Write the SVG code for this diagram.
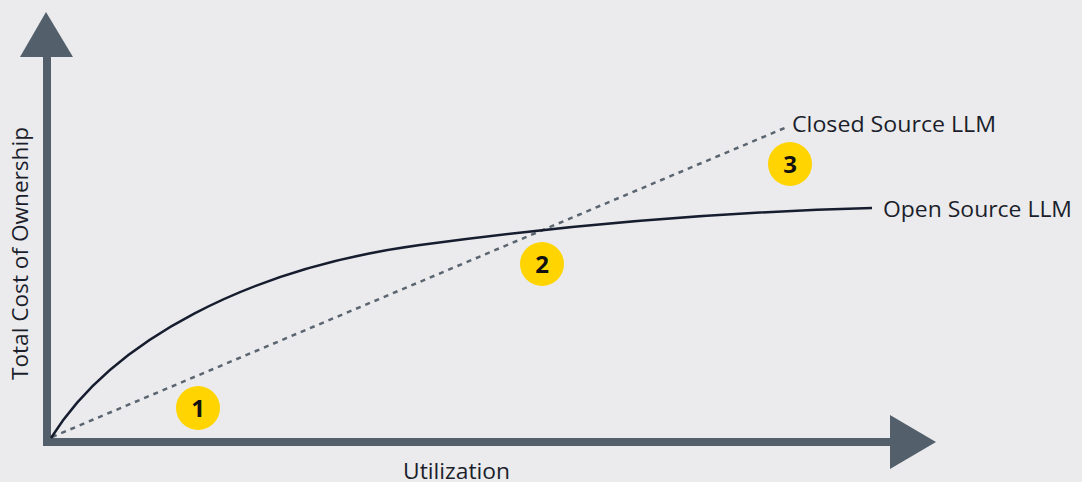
<svg xmlns="http://www.w3.org/2000/svg" width="1082" height="482" viewBox="0 0 1082 482">
  <style>
    .lbl { font-family: "Open Sans", "Noto Sans", "Liberation Sans", sans-serif; font-size: 21px; fill: #1b1e2b; }
    .num { font-family: "Open Sans", "Noto Sans", "Liberation Sans", sans-serif; font-size: 24px; font-weight: bold; fill: #111111; text-anchor: middle; }
    .badge { fill: #ffd400; }
    .axis { fill: #535f6b; }
  </style>
  <rect x="0" y="0" width="1082" height="482" fill="#ebebed"/>

  <g id="axes">
    <rect class="axis" x="43" y="55" width="8" height="391"/>
    <polygon class="axis" points="46,12 73,57 20,57"/>
    <rect class="axis" x="43" y="438" width="849" height="8"/>
    <polygon class="axis" points="890,415 936,442 890,469"/>
  </g>

  <g id="connectors">
    <path id="closed-source-line" d="M52,437 L787,127" fill="none" stroke="#5b6570" stroke-width="2.5" stroke-dasharray="5,5"/>
    <path id="open-source-curve" d="M51,438 C112,340 250,268 420,245 C560,226 720,212 872,208" fill="none" stroke="#161d2e" stroke-width="2.5"/>
  </g>

  <g id="label-closed">
    <text class="lbl" x="792" y="132" textLength="204" lengthAdjust="spacingAndGlyphs">Closed Source LLM</text>
  </g>
  <g id="label-open">
    <text class="lbl" x="883" y="217" textLength="189" lengthAdjust="spacingAndGlyphs">Open Source LLM</text>
  </g>
  <g id="label-x">
    <text class="lbl" x="403" y="479" textLength="107" lengthAdjust="spacingAndGlyphs">Utilization</text>
  </g>
  <g id="label-y">
    <text class="lbl" x="0" y="0" transform="translate(28,380) rotate(-90)" textLength="253" lengthAdjust="spacingAndGlyphs">Total Cost of Ownership</text>
  </g>

  <g id="badge-1">
    <circle class="badge" cx="198" cy="408" r="22"/>
    <text class="num" x="198" y="417">1</text>
  </g>
  <g id="badge-2">
    <circle class="badge" cx="542" cy="264" r="22"/>
    <text class="num" x="542" y="273">2</text>
  </g>
  <g id="badge-3">
    <circle class="badge" cx="790" cy="164" r="22"/>
    <text class="num" x="790" y="173">3</text>
  </g>
</svg>
